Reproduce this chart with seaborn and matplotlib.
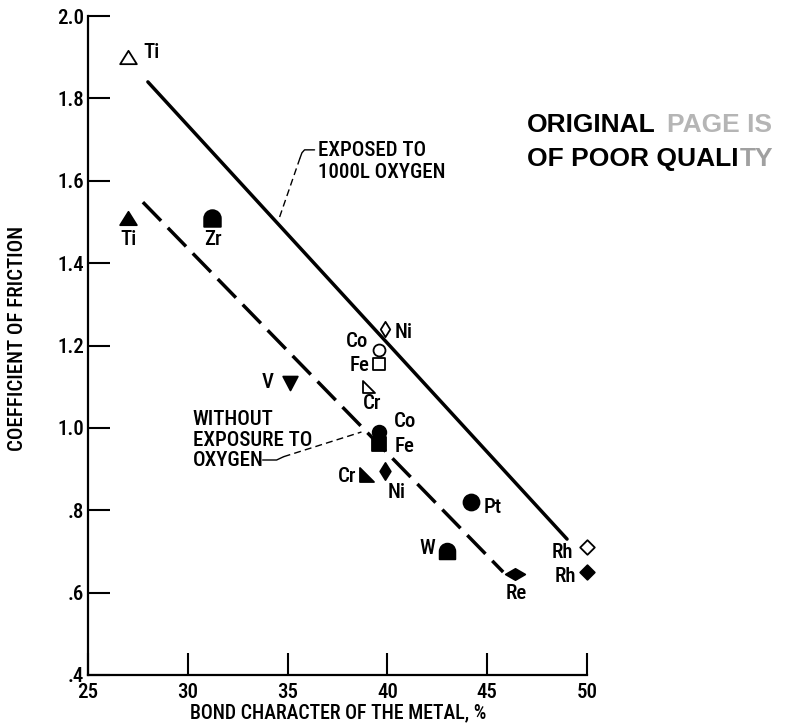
import matplotlib
matplotlib.use("Agg")
import matplotlib.pyplot as plt
from matplotlib.path import Path
from matplotlib import font_manager
import seaborn as sns

# ---------------- data ----------------
metals_exposed = ["Ti", "Ni", "Co", "Fe", "Cr", "Rh"]
bond_exposed = [27.0, 39.9, 39.6, 39.6, 39.1, 50.0]
friction_exposed = [1.90, 1.24, 1.19, 1.155, 1.10, 0.71]

metals_clean = ["Ti", "Zr", "V", "Co", "Fe", "Cr", "Ni", "Pt", "W", "Re", "Rh"]
bond_clean = [27.0, 31.2, 35.1, 39.6, 39.6, 39.0, 39.9, 44.2, 43.0, 46.4, 50.0]
friction_clean = [1.51, 1.51, 1.11, 0.99, 0.96, 0.885, 0.895, 0.82, 0.70, 0.645, 0.65]

fit_exposed_bond = [28.0, 49.0]
fit_exposed_friction = [1.84, 0.73]
fit_clean_bond = [27.75, 45.8]
fit_clean_friction = [1.548, 0.65]

x_ticks = [25, 30, 35, 40, 45, 50]
x_tick_labels = ["25", "30", "35", "40", "45", "50"]
y_ticks = [0.4, 0.6, 0.8, 1.0, 1.2, 1.4, 1.6, 1.8, 2.0]
y_tick_labels = [".4", ".6", ".8", "1.0", "1.2", "1.4", "1.6", "1.8", "2.0"]

x_title = "BOND CHARACTER OF THE METAL, %"
y_title = "COEFFICIENT OF FRICTION"
exposed_note = "EXPOSED TO\n1000L OXYGEN"
clean_note = "WITHOUT\nEXPOSURE TO\nOXYGEN"

# ---------------- marker shapes ----------------
def poly(pts):
    return Path(pts + [pts[0]], [Path.MOVETO] + [Path.LINETO] * (len(pts) - 1) + [Path.CLOSEPOLY])

def dome():
    arc = Path.arc(0, 180)
    verts = [(-1, -1), (1, -1)] + [tuple(v) for v in arc.vertices] + [(-1, -1)]
    codes = [Path.MOVETO, Path.LINETO, Path.LINETO] + list(arc.codes[1:]) + [Path.CLOSEPOLY]
    return Path(verts, codes)

TRI_UP = poly([(-1, -0.8), (1, -0.8), (0, 0.8)])
TRI_DOWN = poly([(-1, 0.95), (1, 0.95), (0, -0.95)])
RIGHT_TRI = poly([(-1, 1), (-1, -1), (1, -1)])
DIAMOND = poly([(0, 1), (1, 0), (0, -1), (-1, 0)])
NARROW_DIAMOND = poly([(0, 1), (0.62, 0), (0, -1), (-0.62, 0)])
WIDE_DIAMOND = poly([(-1, 0), (0, 0.58), (1, 0), (0, -0.58)])
SQUARE = poly([(-1, -1), (1, -1), (1, 1), (-1, 1)])
DOME = dome()

# marker, size (pt)
exposed_style = {"Ti": (TRI_UP, 12.0), "Ni": (NARROW_DIAMOND, 11.0), "Co": ("o", 8.6),
                 "Fe": (SQUARE, 9.2), "Cr": (RIGHT_TRI, 9.3), "Rh": (DIAMOND, 10.5)}
clean_style = {"Ti": (TRI_UP, 12.0), "Zr": (DOME, 12.0), "V": (TRI_DOWN, 10.5),
               "Co": ("o", 9.8), "Fe": (SQUARE, 9.5), "Cr": (RIGHT_TRI, 9.5),
               "Ni": (NARROW_DIAMOND, 12.3), "Pt": ("o", 11.5), "W": (DOME, 11.3),
               "Re": (WIDE_DIAMOND, 14.0), "Rh": (DIAMOND, 10.5)}

# label offsets in pixels (dx, dy)
exposed_label_off = {"Ti": (24, 5), "Ni": (18, -3), "Co": (-22, 8), "Fe": (-20, -1),
                     "Cr": (3, -17), "Rh": (-25, -5)}
clean_label_off = {"Ti": (1, -22), "Zr": (1, -22), "V": (-22, 0), "Co": (26, 10),
                   "Fe": (25, -2), "Cr": (-20, -1), "Ni": (11, -21), "Pt": (21, -5),
                   "W": (-20, 3), "Re": (1, -19), "Rh": (-22, -4)}

# ---------------- style ----------------
sns.set_style("ticks")
available = {f.name for f in font_manager.fontManager.ttflist}
candidates = ["Liberation Sans Narrow", "Roboto Condensed", "Open Sans Condensed",
              "Arial Narrow", "Liberation Sans", "Roboto"]
main_font = next((c for c in candidates if c in available), "DejaVu Sans")
plt.rcParams["font.family"] = [main_font, "DejaVu Sans"]
plt.rcParams["font.weight"] = "medium"
plt.rcParams["text.color"] = "black"
plt.rcParams["axes.labelcolor"] = "black"
plt.rcParams["axes.labelweight"] = "medium"

FS = 15
fig = plt.figure(figsize=(7.93, 7.27), dpi=100)
ax = fig.add_axes([88 / 793, 52 / 727, 499 / 793, 659 / 727])

# fitted lines
sns.lineplot(x=fit_exposed_bond, y=fit_exposed_friction, ax=ax, color="black",
             linewidth=2.5, zorder=2)
sns.lineplot(x=fit_clean_bond, y=fit_clean_friction, ax=ax, color="black",
             linewidth=2.5, linestyle=(0, (7.5, 2.8)), zorder=2)

# points
def draw_points(metals, bonds, fr, style, offs, filled):
    for m, b, f in zip(metals, bonds, fr):
        mk, size = style[m]
        sns.scatterplot(x=[b], y=[f], ax=ax, marker=mk, s=size ** 2,
                        facecolor="black" if filled else "white",
                        edgecolor="black", linewidth=1.3, zorder=4, clip_on=False,
                        legend=False)
        dx, dy = offs[m]
        ax.annotate(m, (b, f), xytext=(dx, dy), textcoords="offset pixels",
                    ha="center", va="center", fontsize=FS, annotation_clip=False)

draw_points(metals_exposed, bond_exposed, friction_exposed, exposed_style, exposed_label_off, False)
draw_points(metals_clean, bond_clean, friction_clean, clean_style, clean_label_off, True)

# annotations with leaders
ax.text(36.5, 1.647, exposed_note, ha="left", va="center", fontsize=FS, linespacing=1.15)
ax.plot([34.6, 35.62], [1.512, 1.655], color="black", lw=1.0, ls=(0, (5, 3)))
ax.plot([35.62, 35.72, 35.85, 36.35], [1.655, 1.668, 1.675, 1.675], color="black", lw=1.0)

ax.text(30.25, 0.9705, clean_note, ha="left", va="center", fontsize=FS, linespacing=1.1)
ax.plot([33.75, 34.45, 34.8], [0.922, 0.922, 0.93], color="black", lw=1.0)
ax.plot([34.8, 38.7], [0.93, 0.99], color="black", lw=1.0, ls=(0, (5, 3)))

# axes
ax.set_xlim(25, 50)
ax.set_ylim(0.4, 2.0)
ax.set_xticks(x_ticks)
ax.set_xticklabels(x_tick_labels)
ax.set_yticks(y_ticks)
ax.set_yticklabels(y_tick_labels)
sns.despine(ax=ax)
for sp in ("left", "bottom"):
    ax.spines[sp].set_linewidth(1.6)
    ax.spines[sp].set_color("black")
ax.tick_params(axis="both", direction="in", length=16, width=1.5, labelsize=FS,
               colors="black")
ax.tick_params(axis="x", pad=6)
ax.tick_params(axis="y", pad=3)

ax.set_xlabel(x_title, fontsize=14.3, va="center", ha="center", color="black")
ax.xaxis.set_label_coords((338 - 88) / 499, (675 - 713) / 659)
ax.set_ylabel(y_title, fontsize=15, va="center", ha="center", color="black")
ax.yaxis.set_label_coords((18 - 88) / 499, (675 - 338) / 659)

# stamp
stamp_kw = dict(fontsize=19, fontweight="bold", family=["Liberation Sans", "DejaVu Sans"],
                ha="left")
t1 = fig.text(527 / 793, 1 - 132 / 727, "ORIGINAL", va="baseline", **stamp_kw)
ax.annotate("PAGE IS", xy=(1, 0), xycoords=t1, xytext=(8, 0), textcoords="offset points",
            color="#b5b5b5", annotation_clip=False, va="bottom", **stamp_kw)
t2 = fig.text(527 / 793, 1 - 166 / 727, "OF POOR QUALI", va="baseline", **stamp_kw)
ax.annotate("TY", xy=(1, 0), xycoords=t2, xytext=(1, 0), textcoords="offset points",
            color="#a0a0a0", annotation_clip=False, va="bottom", **stamp_kw)

fig.savefig("out.png", dpi=100)
